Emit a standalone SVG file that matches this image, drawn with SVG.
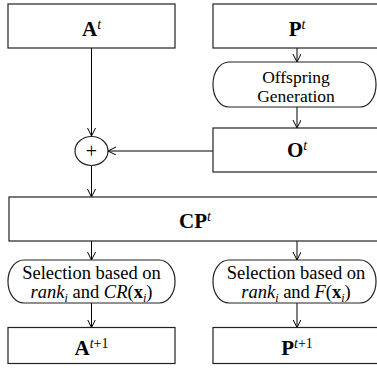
<svg xmlns="http://www.w3.org/2000/svg" width="377" height="375" viewBox="0 0 377 375">
<defs>
<marker id="arr" markerWidth="10" markerHeight="10" refX="8" refY="4" orient="auto" markerUnits="userSpaceOnUse">
<path d="M0,0 L8,4 L0,8" fill="none" stroke="#000" stroke-width="1"/>
</marker>
<style>
.box{fill:#fff;stroke:#222;stroke-width:1.2}
.ln{fill:none;stroke:#000;stroke-width:1;marker-end:url(#arr)}
.lbl{font-family:'Liberation Serif',serif;font-size:21px;font-weight:bold;text-anchor:middle;fill:#000}
.sup{font-size:14px;font-weight:normal}
.it{font-style:italic}
.txt{font-family:'Liberation Serif',serif;font-size:18.5px;font-weight:normal;text-anchor:middle;fill:#000}
.sm{font-size:17.5px}
.sub{font-size:12px}
</style>
</defs>
<g id="connectors">
<line class="ln" x1="91.5" y1="48" x2="91.5" y2="136"/>
<line class="ln" x1="297" y1="48" x2="297" y2="62"/>
<line class="ln" x1="297" y1="107" x2="297" y2="128"/>
<line class="ln" x1="213" y1="151" x2="108" y2="151"/>
<line class="ln" x1="91.5" y1="165.5" x2="91.5" y2="197"/>
<line class="ln" x1="91.5" y1="241" x2="91.5" y2="260"/>
<line class="ln" x1="297" y1="241" x2="297" y2="260"/>
<line class="ln" x1="91.5" y1="303" x2="91.5" y2="327.5"/>
<line class="ln" x1="297" y1="303" x2="297" y2="327.5"/>
</g>
<g id="At">
<rect class="box" x="8" y="4" width="167" height="44"/>
<text class="lbl" x="91.5" y="36">A<tspan class="sup it" dy="-7">t</tspan></text>
</g>
<g id="Pt">
<rect class="box" x="213" y="4" width="170" height="44"/>
<text class="lbl" x="297" y="36">P<tspan class="sup it" dy="-7">t</tspan></text>
</g>
<g id="offspring">
<rect class="box" x="213" y="62" width="163" height="45" rx="16" ry="22"/>
<text class="txt sm" x="296" y="82.5">Offspring</text>
<text class="txt sm" x="296" y="101.5">Generation</text>
</g>
<g id="Ot">
<rect class="box" x="213" y="128" width="170" height="44"/>
<text class="lbl" x="297" y="157">O<tspan class="sup it" dy="-7">t</tspan></text>
</g>
<g id="plus">
<ellipse class="box" cx="91.5" cy="151" rx="16.5" ry="14.5"/>
<text class="txt" x="91.5" y="157.5" style="font-size:20px">+</text>
</g>
<g id="CPt">
<rect class="box" x="9" y="197" width="374" height="44"/>
<text class="lbl" x="195" y="228">CP<tspan class="sup it" dy="-7">t</tspan></text>
</g>
<g id="selA">
<rect class="box" x="8" y="260" width="167" height="43" rx="16" ry="21"/>
<text class="txt" x="91.5" y="279">Selection based on</text>
<text class="txt" x="91.5" y="297.5"><tspan class="it">rank</tspan><tspan class="it sub" dy="4">i</tspan><tspan dy="-4"> and </tspan><tspan class="it">CR</tspan>(<tspan font-weight="bold">x</tspan><tspan class="it sub" dy="4">i</tspan><tspan dy="-4">)</tspan></text>
</g>
<g id="selP">
<rect class="box" x="213" y="260" width="163" height="43" rx="16" ry="21"/>
<text class="txt" x="296" y="279">Selection based on</text>
<text class="txt" x="296" y="297.5"><tspan class="it">rank</tspan><tspan class="it sub" dy="4">i</tspan><tspan dy="-4"> and </tspan><tspan class="it">F</tspan>(<tspan font-weight="bold">x</tspan><tspan class="it sub" dy="4">i</tspan><tspan dy="-4">)</tspan></text>
</g>
<g id="At1">
<rect class="box" x="8" y="327.5" width="167" height="36"/>
<text class="lbl" x="91.5" y="355">A<tspan class="sup" dy="-7"><tspan class="it">t</tspan>+1</tspan></text>
</g>
<g id="Pt1">
<rect class="box" x="213" y="327.5" width="170" height="36"/>
<text class="lbl" x="297" y="355">P<tspan class="sup" dy="-7"><tspan class="it">t</tspan>+1</tspan></text>
</g>
</svg>
